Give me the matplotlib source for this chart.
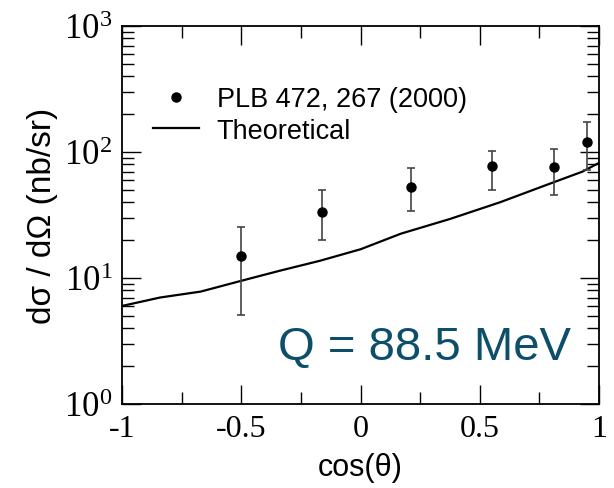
import matplotlib
matplotlib.use('Agg')
import matplotlib.pyplot as plt
import numpy as np
from matplotlib.lines import Line2D
from matplotlib.ticker import FixedLocator, LogLocator, NullFormatter

# eksperimentalne tacke (PLB 472, 267 (2000))
cos_exp = [-0.50, -0.16, 0.21, 0.55, 0.81, 0.95]
sig_exp = [15.0, 33.6, 53.0, 77.0, 75.5, 119.0]
sig_hi = [25.3, 50.2, 74.2, 101.0, 106.0, 172.0]
sig_lo = [5.1, 20.0, 34.2, 49.9, 45.6, 72.4]

# teorijska kriva
cos_th = [-1.0, -0.84, -0.67, -0.50, -0.34, -0.17, 0.0, 0.17, 0.375, 0.585, 0.79, 0.93, 1.0]
sig_th = [6.0, 7.0, 7.8, 9.5, 11.4, 13.7, 16.9, 22.5, 29.4, 39.9, 55.7, 69.8, 82.0]

x_ticks = [-1, -0.5, 0, 0.5, 1]
x_tick_labels = ['-1', '-0.5', '0', '0.5', '1']
y_ticks = [1, 10, 100, 1000]

fig = plt.figure(figsize=(6.14, 4.89), dpi=100)
ax = fig.add_axes([0.1987, 0.1718, 0.7769, 0.773])

ax.plot(cos_th, sig_th, color='black', lw=1.6)
yerr = [np.array(sig_exp) - np.array(sig_lo), np.array(sig_hi) - np.array(sig_exp)]
ax.errorbar(cos_exp, sig_exp, yerr=yerr, fmt='o', color='black', ms=6.5,
            ecolor='#444444', elinewidth=1.2, capsize=3, capthick=1.2)

ax.set_yscale('log')
ax.set_xlim(-1, 1)
ax.set_ylim(1, 1000)

ax.set_xticks(x_ticks)
ax.set_xticklabels(x_tick_labels, fontfamily='Liberation Serif', fontsize=23)
ax.xaxis.set_minor_locator(FixedLocator([-0.75, -0.25, 0.25, 0.75]))
ax.set_yticks(y_ticks)
ax.set_yticklabels([r'$\mathdefault{10^{%d}}$' % int(np.log10(v)) for v in y_ticks],
                   fontfamily='Liberation Serif', fontsize=25)
ax.yaxis.set_minor_locator(LogLocator(base=10, subs=np.arange(2, 10)))
ax.yaxis.set_minor_formatter(NullFormatter())

ax.tick_params(which='both', direction='in', top=True, right=True, width=1.0)
ax.tick_params(which='major', length=14, pad=7)
ax.tick_params(which='minor', length=8.5)
for s in ax.spines.values():
    s.set_linewidth(1.3)

ax.set_xlabel('cos(θ)', fontfamily='Liberation Sans', fontsize=22)
ax.set_ylabel('dσ / dΩ (nb/sr)', fontfamily='Liberation Sans', fontsize=24)
ax.xaxis.set_label_coords(0.5, -0.167)
ax.xaxis.label.set_verticalalignment('center')
ax.yaxis.set_label_coords(-0.166, 0.5)
ax.yaxis.label.set_verticalalignment('center')

ax.text(0.326, 0.12, 'Q = 88.5 MeV', transform=ax.transAxes, color='#0d4f6b',
        fontfamily='Liberation Sans', fontsize=34)

handles = [Line2D([], [], marker='o', ls='none', color='black', ms=6.5),
           Line2D([], [], color='black', lw=1.6)]
labels = ['PLB 472, 267 (2000)', 'Theoretical']
ax.legend(handles, labels, loc='upper left', bbox_to_anchor=(0.065, 0.84),
          frameon=False, prop={'family': 'Liberation Sans', 'size': 19.5},
          handlelength=1.7, handletextpad=0.65, labelspacing=0.2,
          borderpad=0, borderaxespad=0)

fig.savefig('out.png', dpi=100)
